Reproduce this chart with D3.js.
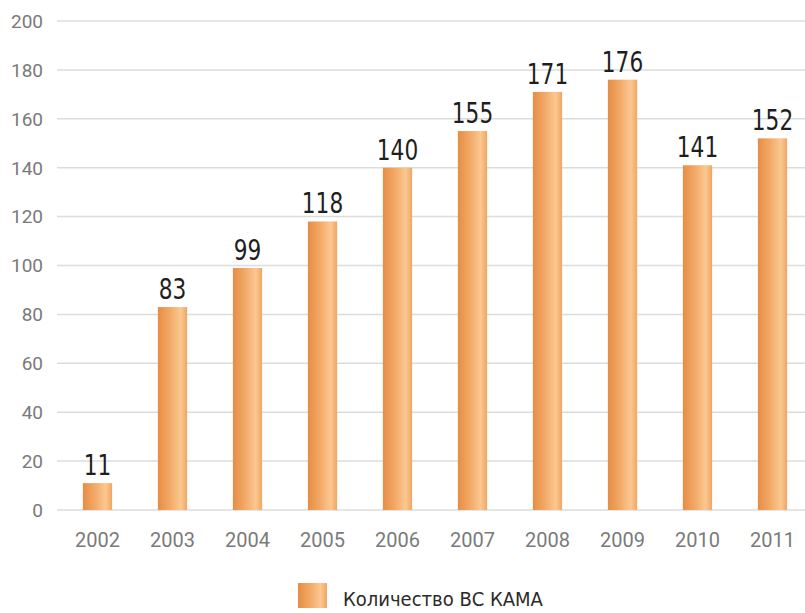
<!DOCTYPE html>
<html>
<head>
<meta charset="utf-8">
<script src="https://cdn.jsdelivr.net/npm/d3@7"></script>
<style>
  body { margin: 0; background: #fff; }
  .tick-y, .tick-x { font-family: Roboto, "DejaVu Sans", sans-serif; fill: #7a7a7a; }
  .value { font-family: "DejaVu Sans Condensed", "Liberation Sans Narrow", sans-serif; fill: #1e1e1e; }
  .legend { font-family: "DejaVu Sans Condensed", "Liberation Sans Narrow", sans-serif; fill: #2a2a2a; }
</style>
</head>
<body>
<svg id="chart" width="805" height="613"></svg>
<script>
const years = ["2002", "2003", "2004", "2005", "2006", "2007", "2008", "2009", "2010", "2011"];
const counts = [11, 83, 99, 118, 140, 155, 171, 176, 141, 152];
const yTicks = [0, 20, 40, 60, 80, 100, 120, 140, 160, 180, 200];
const legendLabel = "Количество ВС КАМА";

const data = years.map((year, i) => ({ year, value: counts[i] }));

const svg = d3.select("#chart");

const gridLeft = 57;
const gridRight = 805;

const xScale = d3.scaleBand().domain(years).range([60, 810]).paddingInner(0.61).paddingOuter(0.305);
const yScale = d3.scaleLinear().domain([0, 200]).range([510, 21]);

// bar gradient: darker on the left, lighter towards the right
const defs = svg.append("defs");
const grad = defs.append("linearGradient").attr("id", "barGrad")
  .attr("x1", "0%").attr("x2", "100%").attr("y1", "0%").attr("y2", "0%");
[
  ["0%", "#e68d45"],
  ["45%", "#f3ac6a"],
  ["78%", "#fbc892"],
  ["100%", "#f0a663"]
].forEach(([o, c]) => grad.append("stop").attr("offset", o).attr("stop-color", c));

// gridlines
svg.append("g").selectAll("line").data(yTicks).join("line")
  .attr("x1", gridLeft).attr("x2", gridRight)
  .attr("y1", (d) => yScale(d)).attr("y2", (d) => yScale(d))
  .attr("stroke", "#dcdcdc").attr("stroke-width", 1.5);

// y tick labels
svg.append("g").selectAll("text").data(yTicks).join("text")
  .attr("class", "tick-y")
  .attr("x", 43).attr("y", (d) => yScale(d))
  .attr("dy", "0.36em")
  .attr("text-anchor", "end")
  .attr("font-size", 19)
  .text((d) => d);

// bars
svg.append("g").selectAll("rect").data(data).join("rect")
  .attr("x", (d) => xScale(d.year))
  .attr("width", xScale.bandwidth())
  .attr("y", (d) => yScale(d.value))
  .attr("height", (d) => yScale(0) - yScale(d.value))
  .attr("fill", "url(#barGrad)");

// value labels (narrowed to mimic the condensed face)
svg.append("g").selectAll("text").data(data).join("text")
  .attr("class", "value")
  .attr("transform", (d) => `translate(${xScale(d.year) + xScale.bandwidth() / 2},${yScale(d.value) - 8}) scale(0.86,1)`)
  .attr("text-anchor", "middle")
  .attr("font-size", 28)
  .text((d) => d.value);

// x tick labels
svg.append("g").selectAll("text").data(years).join("text")
  .attr("class", "tick-x")
  .attr("x", (d) => xScale(d) + xScale.bandwidth() / 2)
  .attr("y", 547)
  .attr("text-anchor", "middle")
  .attr("font-size", 20)
  .text((d) => d);

// legend
const legend = svg.append("g").attr("transform", "translate(298,583)");
legend.append("rect").attr("width", 29).attr("height", 25).attr("fill", "url(#barGrad)");
legend.append("text").attr("class", "legend")
  .attr("x", 45).attr("y", 23)
  .attr("font-size", 20)
  .text(legendLabel);
</script>
</body>
</html>
